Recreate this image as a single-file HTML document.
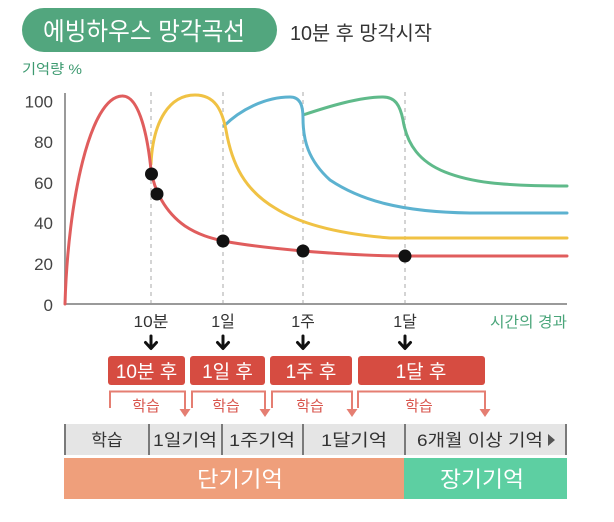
<!DOCTYPE html>
<html><head><meta charset="utf-8"><style>
html,body{margin:0;padding:0;background:#fff;}
svg{display:block;}
text{font-family:"Liberation Sans","Noto Sans CJK KR",sans-serif;}
</style></head><body>
<svg width="614" height="522" viewBox="0 0 614 522" xmlns="http://www.w3.org/2000/svg">
<rect x="0" y="0" width="614" height="522" fill="#fff"/>
<!-- title -->
<rect x="22" y="8" width="255" height="44" rx="22" fill="#52a67e"/>
<text x="43" y="40" font-size="25" fill="#fff" textLength="202" lengthAdjust="spacingAndGlyphs">에빙하우스 망각곡선</text>
<text x="290" y="40" font-size="20" fill="#333" textLength="142" lengthAdjust="spacingAndGlyphs">10분 후 망각시작</text>
<text x="22" y="74" font-size="14" fill="#3d9a70" textLength="60" lengthAdjust="spacingAndGlyphs">기억량 %</text>

<!-- y labels -->
<g font-size="17" fill="#444" text-anchor="end">
<text x="53" y="107.5">100</text>
<text x="53" y="148">80</text>
<text x="53" y="189">60</text>
<text x="53" y="229">40</text>
<text x="53" y="270">20</text>
<text x="53" y="311">0</text>
</g>

<!-- dashed verticals -->
<g stroke="#bdbdbd" stroke-width="1.3" stroke-dasharray="4,4">
<line x1="151" y1="92" x2="151" y2="304"/>
<line x1="223" y1="92" x2="223" y2="304"/>
<line x1="303" y1="92" x2="303" y2="304"/>
<line x1="405" y1="92" x2="405" y2="304"/>
</g>

<!-- axes -->
<line x1="65" y1="93" x2="65" y2="305" stroke="#9a9a9a" stroke-width="2"/>
<line x1="64" y1="304" x2="567" y2="304" stroke="#9a9a9a" stroke-width="2"/>

<!-- curves -->
<g fill="none" stroke-width="3" stroke-linecap="round" stroke-linejoin="round">
<path stroke="#5fba8a" d="M303,115 C330,106 360,97 383,97 C395,97 400,105 403,120 C407,145 420,162 445,172 C470,182 500,186 567,186"/>
<path stroke="#5cb2d0" d="M224,126 C240,110 265,97 290,97 C300,97 303,105 303,118 C303,140 308,160 330,180 C360,200 400,212 470,213 L567,213"/>
<path stroke="#f0c244" d="M151,164 C153,120 170,95 195,95 C215,95 222,110 226,130 C232,165 245,190 275,208 C300,224 340,234 390,238 L567,238"/>
<path stroke="#e05d5d" d="M65,304 C68,200 90,97 122,96 C140,95 148,140 151,170 C154,190 165,212 185,226 C200,236 215,239 223,241 C250,246 280,249 303,251 C340,254 380,256 405,256 L567,256"/>
</g>
<!-- dots -->
<g fill="#111">
<circle cx="151.5" cy="174" r="6.5"/>
<circle cx="157" cy="194" r="6.5"/>
<circle cx="223" cy="241" r="6.5"/>
<circle cx="303" cy="251" r="6.5"/>
<circle cx="405" cy="256" r="6.5"/>
</g>

<!-- x labels -->
<g font-size="16" fill="#333" text-anchor="middle">
<text x="151" y="327" textLength="35" lengthAdjust="spacingAndGlyphs">10분</text>
<text x="223" y="327">1일</text>
<text x="303" y="327">1주</text>
<text x="405" y="327">1달</text>
</g>
<text x="490" y="327" font-size="15" fill="#4aa57a" textLength="77" lengthAdjust="spacingAndGlyphs">시간의 경과</text>

<!-- black arrows -->
<g stroke="#111" stroke-width="3" fill="none" stroke-linecap="round" stroke-linejoin="round">
<path d="M151,336 V348 M145.5,342.5 L151,348.5 L156.5,342.5"/>
<path d="M223,336 V348 M217.5,342.5 L223,348.5 L228.5,342.5"/>
<path d="M303,336 V348 M297.5,342.5 L303,348.5 L308.5,342.5"/>
<path d="M405,336 V348 M399.5,342.5 L405,348.5 L410.5,342.5"/>
</g>

<!-- red boxes -->
<g fill="#d64c41">
<rect x="108" y="356" width="77" height="29" rx="3"/>
<rect x="190" y="356" width="75" height="29" rx="3"/>
<rect x="270" y="356" width="82" height="29" rx="3"/>
<rect x="358" y="356" width="127" height="29" rx="3"/>
</g>
<g font-size="19" fill="#fff" text-anchor="middle">
<text x="146.5" y="378">10분 후</text>
<text x="227.5" y="378">1일 후</text>
<text x="311" y="378">1주 후</text>
<text x="421" y="378">1달 후</text>
</g>

<!-- brackets -->
<g stroke="#e57e72" stroke-width="2" fill="none">
<path d="M110,408 V391.5 H185 V410"/>
<path d="M192,408 V391.5 H265 V410"/>
<path d="M272,408 V391.5 H352 V410"/>
<path d="M358,408 V391.5 H485 V410"/>
</g>
<g fill="#e57e72">
<polygon points="179.5,409 190.5,409 185,417"/>
<polygon points="259.5,409 270.5,409 265,417"/>
<polygon points="346.5,409 357.5,409 352,417"/>
<polygon points="479.5,409 490.5,409 485,417"/>
</g>
<g font-size="15" fill="#d9574f" text-anchor="middle">
<text x="146" y="411">학습</text>
<text x="226" y="411">학습</text>
<text x="310" y="411">학습</text>
<text x="419" y="411">학습</text>
</g>

<!-- gray bar -->
<rect x="64" y="424" width="503" height="31" fill="#e5e5e5"/>
<g stroke="#7a7a7a" stroke-width="2">
<line x1="65" y1="424" x2="65" y2="455"/>
<line x1="149" y1="424" x2="149" y2="455"/>
<line x1="222" y1="424" x2="222" y2="455"/>
<line x1="303" y1="424" x2="303" y2="455"/>
<line x1="405" y1="424" x2="405" y2="455"/>
<line x1="566" y1="424" x2="566" y2="455"/>
</g>
<g font-size="17" fill="#333" text-anchor="middle">
<text x="107" y="446">학습</text>
<text x="185" y="446" textLength="64" lengthAdjust="spacingAndGlyphs">1일기억</text>
<text x="262" y="446" textLength="66" lengthAdjust="spacingAndGlyphs">1주기억</text>
<text x="354" y="446" textLength="66" lengthAdjust="spacingAndGlyphs">1달기억</text>
<text x="480" y="446" textLength="126" lengthAdjust="spacingAndGlyphs">6개월 이상 기억</text>
</g>
<polygon points="548,434 548,446 555,440" fill="#555"/>

<!-- bottom bars -->
<rect x="64" y="458" width="340" height="41" fill="#ef9f7b"/>
<rect x="404" y="458" width="163" height="41" fill="#5dcfa2"/>
<text x="240" y="487" font-size="22" fill="#fff" text-anchor="middle" textLength="86" lengthAdjust="spacingAndGlyphs">단기기억</text>
<text x="482" y="487" font-size="22" fill="#fff" text-anchor="middle" textLength="84" lengthAdjust="spacingAndGlyphs">장기기억</text>
</svg>
</body></html>
